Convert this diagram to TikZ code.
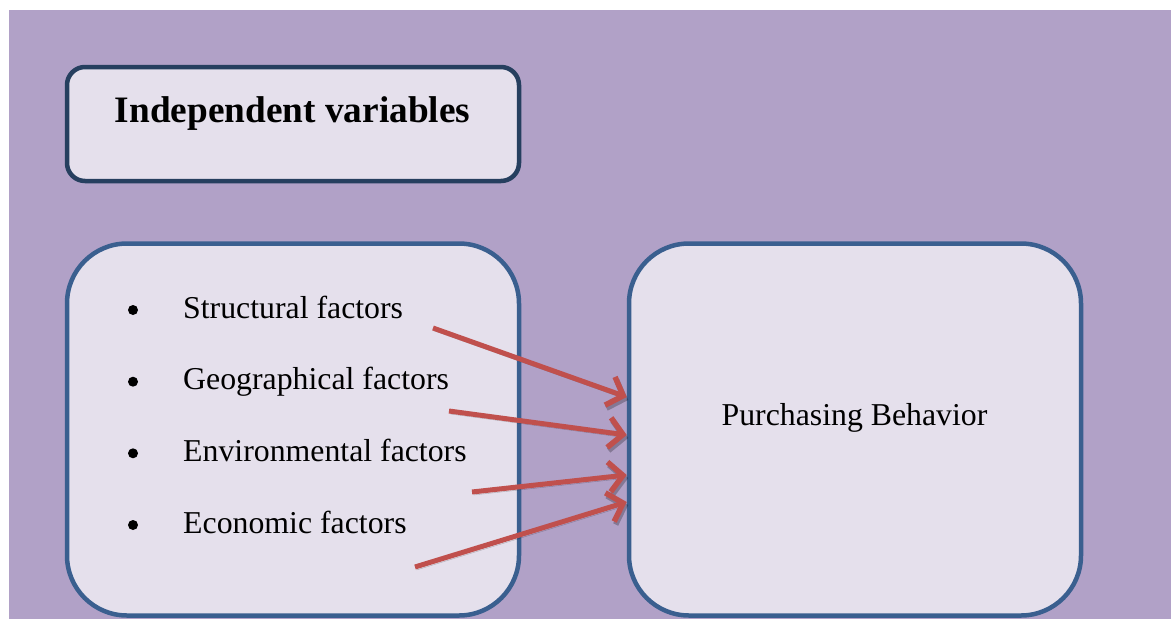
\documentclass[tikz,border=0pt]{standalone}
\usepackage{fontspec}
\setmainfont{Liberation Serif}
\usepackage{xcolor}
\usetikzlibrary{arrows.meta}

\definecolor{bgpurple}{HTML}{B1A1C7}
\definecolor{boxfill}{HTML}{E5E0EC}
\definecolor{titleline}{HTML}{263F5F}
\definecolor{boxline}{HTML}{3A5F8F}
\definecolor{arrowred}{HTML}{C0504D}

\tikzset{
  panel/.style={draw=boxline,fill=boxfill,line width=4.5pt,rounded corners=60pt,
    minimum width=452pt,minimum height=372pt,inner sep=0pt},
  titlebox/.style={draw=titleline,fill=boxfill,line width=4.5pt,rounded corners=18pt,
    minimum width=452pt,minimum height=114pt,inner sep=0pt},
  bodytext/.style={inner sep=0pt,font=\fontsize{31.8}{38}\selectfont},
  bulletdot/.style={circle,fill=black,inner sep=0pt,minimum size=10pt},
  redarrow/.style={draw=arrowred,line width=5pt,
    -{Straight Barb[length=14pt,width=30pt,line width=5.5pt]},
    preaction={draw=black,opacity=0.25,transform canvas={shift={(1.5pt,-3pt)}}}}
}

\begin{document}
\begin{tikzpicture}[x=1pt,y=-1pt]
\useasboundingbox (0,0) rectangle (1171,619);
\fill[bgpurple] (9,10) rectangle (1171,619);

% boxes
\node[titlebox] (title) at (293,124) {};
\node[panel] (factors) at (293,429.5) {};
\node[panel] (behavior) at (855,429.5) {};

% texts
\node[bodytext,anchor=base,font=\fontsize{37.3}{44}\selectfont\bfseries] (titletext) at (292.5,122) {Independent variables};
\node[bodytext,anchor=base] (pbtext) at (854.5,425) {Purchasing Behavior};

\foreach \name/\txt/\y in {s/Structural factors/318,g/Geographical factors/389.7,e/Environmental factors/461.3,c/Economic factors/533}{
  \node[bulletdot] (bul\name) at (133,\y-8) {};
  \node[bodytext,anchor=base west] (item\name) at (183,\y) {\txt};
}

% arrows
\coordinate (t1) at (433,328);
\coordinate (t2) at (449,411);
\coordinate (t3) at (472,492);
\coordinate (t4) at (415,567);
\coordinate (h1) at ([yshift=32.5pt]behavior.west);
\coordinate (h2) at ([yshift=-5.5pt]behavior.west);
\coordinate (h3) at ([yshift=-45.5pt]behavior.west);
\coordinate (h4) at ([yshift=-72.5pt]behavior.west);
\foreach \i in {1,...,4}
  \draw[redarrow] (t\i) -- (h\i);
\end{tikzpicture}
\end{document}
